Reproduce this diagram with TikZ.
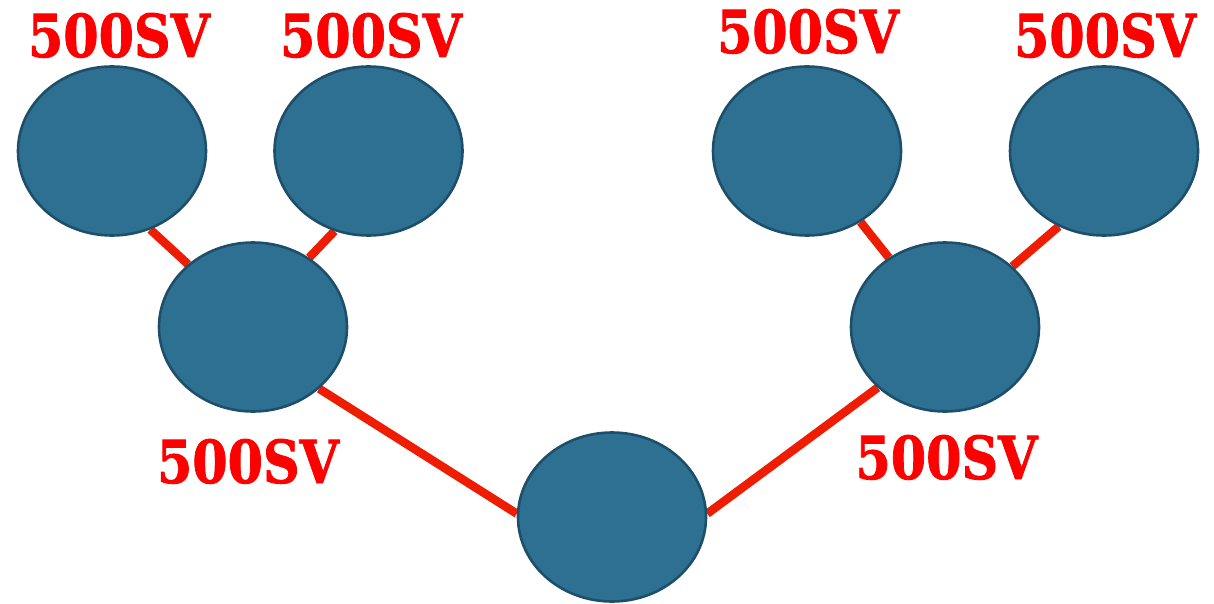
\documentclass[tikz,border=0pt]{standalone}
\usepackage{fontspec}
\newfontfamily\labfont{DejaVu Serif}[BoldFeatures={FakeBold=1.5}]
\usetikzlibrary{shapes.geometric,backgrounds}
\definecolor{nodefill}{HTML}{2E7091}
\definecolor{nodeline}{HTML}{1E4F6A}
\definecolor{linkred}{HTML}{EE1C00}
\definecolor{labred}{HTML}{FF0000}
\tikzset{
  bubble/.style={ellipse, fill=nodefill, draw=nodeline, line width=2.6pt,
    minimum width=188pt, minimum height=169pt, inner sep=0pt},
  link/.style={draw=linkred, line width=8.5pt},
  sv/.style={anchor=base, inner sep=0pt, text=labred}
}
\newcommand{\svtext}{\resizebox{182pt}{44pt}{\labfont\bfseries 500SV}}
\begin{document}
\begin{tikzpicture}[x=1pt,y=-1pt]
\useasboundingbox (0,0) rectangle (1214,604);
\node[bubble] (tl1) at (112,151) {};
\node[bubble] (tl2) at (368.5,151) {};
\node[bubble] (ml)  at (253,327) {};
\node[bubble] (bot) at (612,517) {};
\node[bubble] (mr)  at (945,327) {};
\node[bubble] (tr1) at (807,151) {};
\node[bubble] (tr2) at (1104,151) {};
\begin{scope}[on background layer]
\draw[link] (tl1.-64) -- (ml.136);
\draw[link] (tl2.-113) -- (ml.51);
\draw[link] (ml.-43) -- (bot.178);
\draw[link] (bot.2) -- (mr.-138);
\draw[link] (tr1.-53) -- (mr.129);
\draw[link] (tr2.-121) -- (mr.42);
\end{scope}
\node[sv] (l1) at (119,57) {\svtext};
\node[sv] (l2) at (371,57) {\svtext};
\node[sv] (l3) at (808,53) {\svtext};
\node[sv] (l4) at (1105,57) {\svtext};
\node[sv] (l5) at (248,483) {\svtext};
\node[sv] (l6) at (946.5,479) {\svtext};
\end{tikzpicture}
\end{document}
